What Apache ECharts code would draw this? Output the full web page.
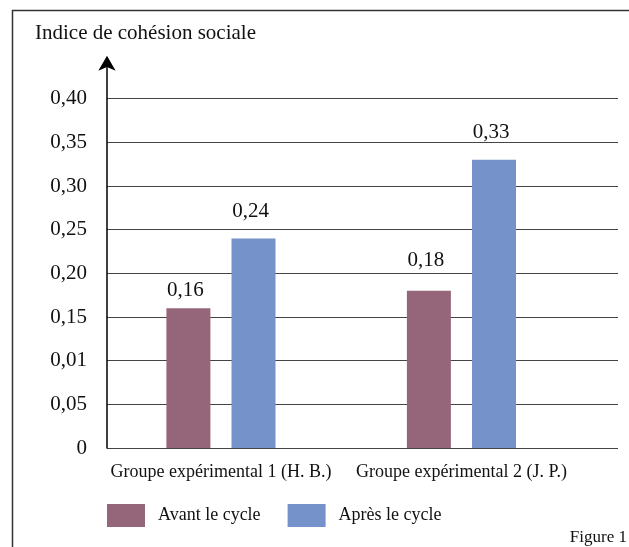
<!DOCTYPE html>
<html>
<head>
<meta charset="utf-8">
<script src="https://cdn.jsdelivr.net/npm/echarts@6/dist/echarts.min.js"></script>
<style>
  html, body { margin: 0; padding: 0; background: #fff; }
  #chart { width: 629px; height: 547px; }
</style>
</head>
<body>
<div id="chart"></div>
<script>
// Groups compared, and the cohesion index before / after the cycle
const categories = ['Groupe expérimental 1 (H. B.)', 'Groupe expérimental 2 (J. P.)'];
const avantCycle = [0.16, 0.18];
const apresCycle = [0.24, 0.33];
const seriesNames = ['Avant le cycle', 'Après le cycle'];
// Tick labels printed on the vertical axis (one per 0,05 step)
const yTickLabels = ['0', '0,05', '0,01', '0,15', '0,20', '0,25', '0,30', '0,35', '0,40'];

// Gap (px) between each bar top and its value label
const labelGapAvant = [7.5, 20];
const labelGapApres = [16.5, 17];

const FONT = "'Liberation Serif', 'Times New Roman', serif";
const INK = '#111';
const fmt = v => v.toFixed(2).replace('.', ',');

const chart = echarts.init(document.getElementById('chart'), null, { renderer: 'canvas' });

const yScale = { min: 0, max: 0.44, interval: 0.05 };

const withLabelGap = (values, gaps) =>
  values.map((v, i) => ({ value: v, label: { distance: gaps[i] } }));

const barLabel = {
  show: true, position: 'top', offset: [-3, 0],
  fontFamily: FONT, fontSize: 21, color: INK, formatter: p => fmt(p.value)
};

chart.setOption({
  animation: false,
  backgroundColor: '#fff',
  title: [
    { text: 'Indice de cohésion sociale', left: 35, top: 23, padding: 0,
      textStyle: { fontFamily: FONT, fontSize: 21, fontWeight: 'normal', color: INK } },
    { text: 'Figure 1', right: 2, top: 529, padding: 0,
      textStyle: { fontFamily: FONT, fontSize: 17, fontWeight: 'normal', color: INK } }
  ],
  legend: {
    data: seriesNames,
    left: 107, top: 504, padding: 0,
    icon: 'rect',
    itemWidth: 38, itemHeight: 23, itemGap: 27,
    textStyle: { fontFamily: FONT, fontSize: 18, color: INK, padding: [0, 0, 0, 8] }
  },
  graphic: [
    { type: 'polyline', silent: true,
      shape: { points: [[12.5, 547], [12.5, 10.5], [629, 10.5]] },
      style: { stroke: '#333', lineWidth: 1.5, fill: null } }
  ],
  grid: [
    // frame grid: value axis with arrow and horizontal rules
    { left: 107, right: 11, top: 63.8, bottom: 99 },
    // bar grid: category slots for the two groups
    { left: 100.7, right: 47.3, top: 63.8, bottom: 99 }
  ],
  xAxis: [
    { type: 'category', gridIndex: 0, data: categories, show: false },
    { type: 'category', gridIndex: 1, data: categories,
      axisLine: { show: false }, axisTick: { show: false },
      axisLabel: { interval: 0, hideOverlap: false, fontFamily: FONT, fontSize: 18, color: INK, margin: 15 } }
  ],
  yAxis: [
    Object.assign({ type: 'value', gridIndex: 0,
      axisLine: { show: true, symbol: ['none', 'arrow'], symbolSize: [13, 15], symbolOffset: [0, 8],
        lineStyle: { color: '#000', width: 1.5 } },
      axisTick: { show: false },
      axisLabel: { fontFamily: FONT, fontSize: 21, color: INK, margin: 20,
        showMaxLabel: false,
        formatter: v => { const i = Math.round(v / 0.05); return Math.abs(v - i * 0.05) < 1e-6 && yTickLabels[i] !== undefined ? yTickLabels[i] : ''; } },
      splitLine: { show: true, showMaxLine: false, lineStyle: { color: '#444', width: 1 } }
    }, yScale),
    Object.assign({ type: 'value', gridIndex: 1, show: false, splitLine: { show: false } }, yScale)
  ],
  series: [
    { name: seriesNames[0], type: 'bar', xAxisIndex: 1, yAxisIndex: 1,
      data: withLabelGap(avantCycle, labelGapAvant), barWidth: 44, barGap: '48%',
      itemStyle: { color: '#95667a' }, label: barLabel },
    { name: seriesNames[1], type: 'bar', xAxisIndex: 1, yAxisIndex: 1,
      data: withLabelGap(apresCycle, labelGapApres), barWidth: 44, barGap: '48%',
      itemStyle: { color: '#7692cb' }, label: barLabel }
  ]
});
</script>
</body>
</html>
